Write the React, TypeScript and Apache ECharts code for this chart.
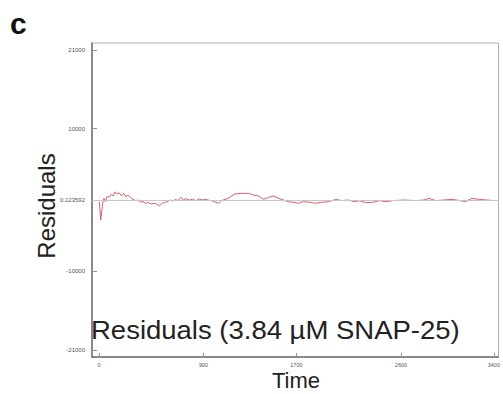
import React, { useEffect, useRef } from "react";
import * as echarts from "echarts";

const timeValues = [
  3, 15, 32, 43, 54, 71, 88, 108, 122, 139, 156, 173, 194, 213, 231, 250, 271, 293, 316, 336,
  356, 379, 401, 424, 450, 478, 498, 521, 544, 564, 592, 612, 635, 658, 681, 706, 726, 749, 777, 806,
  834, 863, 891, 920, 948, 977, 1005, 1033, 1056, 1085, 1113, 1142, 1170, 1219, 1290, 1332, 1375, 1418, 1460, 1503,
  1546, 1588, 1631, 1674, 1717, 1759, 1816, 1859, 1916, 1973, 2044, 2087, 2144, 2201, 2243, 2300, 2357, 2414, 2471, 2528,
  2628, 2727, 2798, 2841, 2898, 2969, 3040, 3111, 3154, 3211, 3268, 3339, 3400,
];
const residualValues = [
  -240, -2780, -460, 230, -240, 560, 370, 830, 560, 1150, 830, 1020, 560, 930, 460, 690, 370, 90, -90, 0,
  -280, -240, -460, -370, -560, -460, -600, -830, -460, -320, -240, 0, -140, 90, -90, 370, 0, 180, 0, 90,
  -90, 140, 0, 90, -40, -140, -320, -460, -90, 90, 230, 560, 830, 930, 930, 690, 560, 90, 370, 560,
  230, 0, -240, -320, -460, -240, -320, -460, -320, -240, 90, -90, 0, -240, -90, -370, -320, -90, -240, -90,
  0, -90, 0, 230, -90, 0, 90, -90, -240, 230, 90, 0, -90,
];
const xTickValues = [0, 900, 1700, 2600, 3400];
const yTickValues = [21000, 10000, 0.123592, -10000, -21000];
const baselineValue = 0.123592;

export default function App() {
  const ref = useRef<HTMLDivElement>(null);
  useEffect(() => {
    if (!ref.current) return;
    const chart = echarts.init(ref.current, null, { renderer: "svg" });
    const font = "Liberation Sans, Arial, sans-serif";
    chart.setOption({
      animation: false,
      backgroundColor: "#ffffff",
      grid: {
        left: 92,
        top: 43,
        right: 1,
        bottom: 37,
        show: true,
        borderColor: "#b0b0b0",
        borderWidth: 1,
      },
      xAxis: {
        type: "value",
        min: -60,
        max: 3440,
        axisLine: { show: true, onZero: false, lineStyle: { color: "#707070", width: 1.5 } },
        axisTick: {
          show: true,
          inside: true,
          length: 4,
          customValues: xTickValues,
          lineStyle: { color: "#909090" },
        },
        axisLabel: {
          customValues: xTickValues,
          fontSize: 5.5,
          color: "#555",
          fontFamily: font,
          margin: 5,
          formatter: (v: number) => String(v),
        },
        splitLine: { show: false },
      },
      yAxis: {
        type: "value",
        min: -22000,
        max: 22000,
        axisLine: { show: true, onZero: false, lineStyle: { color: "#707070", width: 1.5 } },
        axisTick: {
          show: true,
          inside: true,
          length: 5,
          customValues: yTickValues,
          lineStyle: { color: "#909090" },
        },
        axisLabel: {
          customValues: yTickValues,
          fontSize: 6,
          color: "#555",
          fontFamily: font,
          margin: 7,
          formatter: (v: number) => String(v),
        },
        splitLine: { show: false },
      },
      series: [
        {
          type: "line",
          data: timeValues.map((t, i) => [t, residualValues[i]]),
          showSymbol: false,
          lineStyle: { color: "#d8606a", width: 1 },
          markLine: {
            silent: true,
            symbol: "none",
            label: { show: false },
            lineStyle: { color: "#c8c8c8", type: "solid", width: 1 },
            data: [{ yAxis: baselineValue }],
          },
        },
      ],
      graphic: [
        {
          type: "text",
          left: 10,
          top: 8,
          style: { text: "c", fontSize: 30, fontWeight: "bold", fill: "#111", fontFamily: font },
        },
        {
          type: "text",
          x: 46,
          y: 206,
          rotation: Math.PI / 2,
          style: {
            text: "Residuals",
            fontSize: 24,
            fill: "#222",
            fontFamily: font,
            align: "center",
            verticalAlign: "middle",
          },
        },
        {
          type: "text",
          x: 91,
          y: 330,
          scaleX: 1.1,
          style: {
            text: "Residuals (3.84 µM SNAP-25)",
            fontSize: 25,
            fill: "#222",
            fontFamily: font,
            align: "left",
            verticalAlign: "middle",
          },
        },
        {
          type: "text",
          x: 296,
          y: 380,
          style: {
            text: "Time",
            fontSize: 22,
            fill: "#222",
            fontFamily: font,
            align: "center",
            verticalAlign: "middle",
          },
        },
      ],
    });
    return () => chart.dispose();
  }, []);
  return <div ref={ref} style={{ width: 503, height: 394, position: "absolute", left: 0, top: 0 }} />;
}
